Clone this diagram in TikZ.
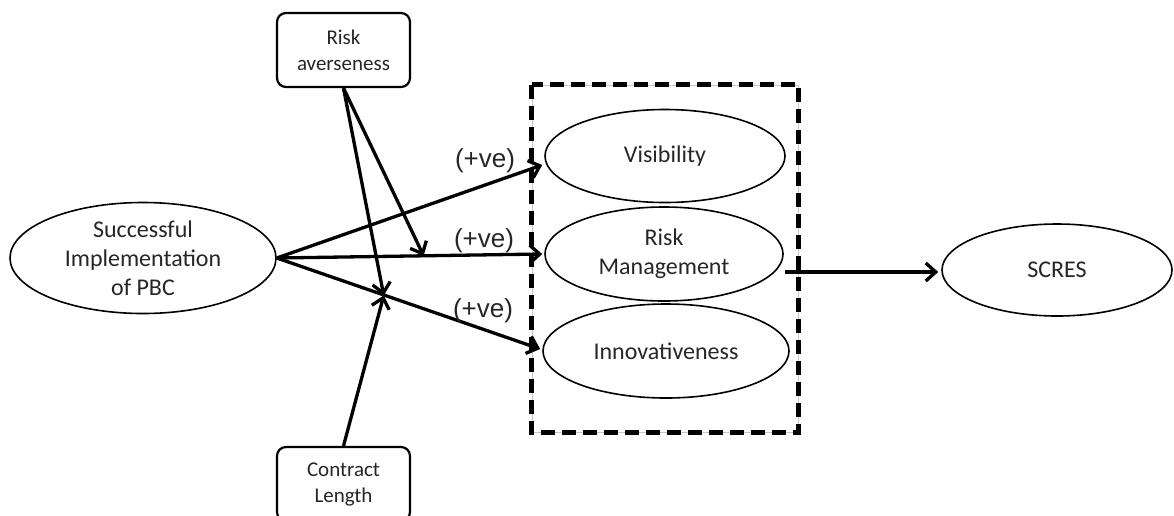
\documentclass[tikz,border=0pt]{standalone}
\usepackage{fontspec}
\setmainfont{Carlito}
\newfontfamily\arialfont{Liberation Sans}
\usetikzlibrary{shapes.geometric,arrows.meta,calc}
\begin{document}
\begin{tikzpicture}[x=1pt,y=-1pt,
  oval/.style={ellipse,draw,line width=1.6pt,inner sep=0pt},
  txt/.style={align=center,font=\fontsize{24}{29}\selectfont,inner sep=0pt,text=black!85},
  factor/.style={draw,line width=2.2pt,rounded corners=9pt,minimum width=133pt,minimum height=74pt,
                 align=center,font=\fontsize{21}{26}\selectfont,inner sep=0pt,text=black!85},
  arr/.style={line width=3.3pt,-{Straight Barb[length=10pt,width=18pt]}},
  sign/.style={font=\arialfont\fontsize{26}{30}\selectfont,inner sep=0pt,text=black!85}]
\useasboundingbox (0,0) rectangle (1174,515);
\clip (0,0) rectangle (1174,515);

% constructs
\node[oval,minimum width=266pt,minimum height=111pt] (pbc) at (143,258) {};
\node[txt] (pbct) at (pbc.center) {Successful\\Implementation\\of PBC};

\node[oval,minimum width=240pt,minimum height=93pt] (vis) at (665,156) {};
\node[txt] (vist) at (vis.center) {Visibility};
\node[oval,minimum width=238pt,minimum height=94pt] (rm) at (664,254) {};
\node[txt] (rmt) at (rm.center) {Risk\\Management};
\node[oval,minimum width=246pt,minimum height=94pt] (inn) at (666,351) {};
\node[txt] (innt) at (inn.center) {Innovativeness};

\node[oval,minimum width=230pt,minimum height=92pt] (scres) at (1057,270) {};
\node[txt] (screst) at (scres.center) {SCRES};

% moderators
\node[factor] (ra) at (343.5,50) {Risk\\averseness};
\node[factor] (cl) at (343.5,484) {Contract\\Length};

% grouping frame around the three capabilities
\node[draw=gray!45,line width=0.8pt,minimum width=266pt,minimum height=347pt,inner sep=0pt] (grp) at (665,258.5) {};
\draw[line width=4.5pt,dash pattern=on 14pt off 7pt] (grp.north west) rectangle (grp.south east);

% main effects
\coordinate (vin) at ($(vis.west)+(-2,9)$);
\draw[arr] (pbc.east) -- (vin);
\draw[arr] (pbc.east) -- ($(rm.west)+(-2,0)$);
\draw[arr] (pbc.east) -- ($(inn.west)+(-2,-2)$);

\node[sign] (s1) at (485,161) {(+ve)};
\node[sign] (s2) at (484,241) {(+ve)};
\node[sign] (s3) at (483,311) {(+ve)};

% moderating effects
\coordinate (m1) at ($(pbc.east)!0.549!(rm.west)$);
\coordinate (m2) at ($(pbc.east)!0.403!(inn.west)$);
\draw[arr] (ra.south) -- (m1);
\draw[arr] (ra.south) -- (m2);
\draw[arr] (cl.north) -- (m2);

% outcome
\coordinate (rmout) at (785,272);
\draw[arr] (rmout) -- ($(scres.west |- rmout)+(-3,0)$);
\end{tikzpicture}
\end{document}
